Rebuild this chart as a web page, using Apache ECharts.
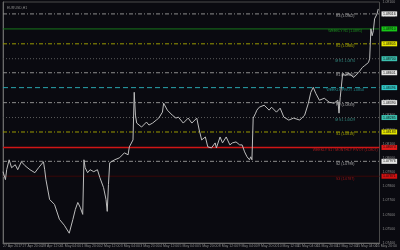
<!DOCTYPE html>
<html><head><meta charset="utf-8">
<script src="https://cdn.jsdelivr.net/npm/echarts@6/dist/echarts.min.js"></script>
<style>html,body{margin:0;padding:0;background:#0a0a10}#c{width:400px;height:250px}</style>
</head><body><div id="c"></div>
<script>
// Time labels (one every 16 H1 bars)
const TIME_LABELS = ['27 Apr 2017','27 Apr 20:00','28 Apr 12:00','1 May 04:00','1 May 20:00','2 May 12:00','3 May 04:00','3 May 20:00','4 May 12:00','5 May 04:00','5 May 20:00','8 May 12:00','9 May 04:00','9 May 20:00','10 May 12:00','11 May 04:00','11 May 20:00','12 May 12:00','15 May 04:00','15 May 20:00'];
const BARS_PER_LABEL = 16;
const BAR_COUNT = 307;
// Price line (bar index, close)
const BAR_IDX = [0,2,3,5,7,10,12,15,18,22,26,29,33,34,35,38,42,46,50,54,57,59,61,63,65,66,67,69,71,74,77,79,82,84,85,86,87,91,95,99,102,103,106,107,108,109,113,117,119,122,125,127,130,131,134,138,141,143,147,151,154,158,160,162,165,167,170,173,174,177,179,182,185,187,190,193,195,197,199,201,202,203,204,206,207,209,213,217,219,223,226,229,233,237,242,246,249,251,253,255,258,262,266,270,273,274,275,277,279,282,286,290,293,295,298,299,300,301,302,303,305,306];
const CLOSE = [1.07903,1.07847,1.07917,1.07987,1.07931,1.07952,1.07917,1.07973,1.07945,1.07917,1.07896,1.07931,1.07973,1.07917,1.07847,1.07707,1.07672,1.07567,1.07525,1.07469,1.07567,1.07637,1.07686,1.07651,1.07602,1.07987,1.07931,1.07896,1.07917,1.07903,1.07917,1.07861,1.07791,1.07707,1.07623,1.07812,1.07966,1.07987,1.08001,1.08036,1.08022,1.08078,1.08127,1.08463,1.08302,1.08246,1.08218,1.08253,1.08232,1.08246,1.08267,1.08281,1.08323,1.08386,1.08337,1.08302,1.08281,1.08288,1.08246,1.08281,1.08246,1.08281,1.08197,1.08127,1.08148,1.08078,1.08071,1.08106,1.08071,1.08148,1.08106,1.08148,1.08092,1.08106,1.08113,1.08092,1.08092,1.08043,1.08008,1.07987,1.08008,1.07987,1.08281,1.08316,1.08337,1.08358,1.08372,1.08337,1.08358,1.08323,1.08351,1.08288,1.08267,1.08281,1.08267,1.08302,1.08386,1.08463,1.08498,1.08456,1.08407,1.08421,1.08393,1.08386,1.08407,1.08316,1.08428,1.08596,1.08582,1.08596,1.08568,1.08603,1.08638,1.08652,1.08673,1.08701,1.08911,1.08862,1.08897,1.08981,1.09016,1.09051];
// Pivot levels
const LEVEL_VALUES = [1.09016,1.08910,1.08805,1.08700,1.08601,1.08496,1.08390,1.08285,1.08183,1.08074,1.07976,1.07871];
const LEVEL_NAMES = ['R3 (1.0902)','WEEKLY R1 (1.0891)','R2 (1.0880)','M R1 1.0870','R1 (1.0860)','WEEKLY PIVOT 1.0850','PP (1.0839)','M S1 1.0829','S1 (1.0818)','WEEKLY S1 / MONTHLY PIVOT (1.0807)','S2 (1.0798)','S3 (1.0787)'];
const LEVEL_KINDS = ['white','green','yellow','teal','white','cyan','white','teal','yellow','red','white','darkred'];
const Y_MIN = 1.0740, Y_MAX = 1.0910, Y_STEP = 0.0010;

const STYLE = {
  white:  {line:'#8c8c8c', type:[4,2,1,2], width:1, box:'#e4e4e4', text:'#d0d0d0'},
  green:  {line:'#17761a', type:'solid', width:1, box:'#18c818', text:'#22b022'},
  yellow: {line:'#9a9a00', type:[4,2,1,2], width:1, box:'#e6e600', text:'#c8c800'},
  teal:   {line:'#5c5c5c', type:[1,2], width:1, box:'#3cc0b0', text:'#3aa89a'},
  cyan:   {line:'#28a4ac', type:[5,3], width:1, box:'#30c8c8', text:'#2ab0b0'},
  red:    {line:'#d01515', type:'solid', width:1.5, box:'#e01a1a', text:'#d02020'},
  darkred:{line:'#3a0808', type:'solid', width:1, box:'#d01010', text:'#c01818'}
};
const FONT = 'Liberation Sans';
const LABEL_AT = 279;

const levelSeries = LEVEL_VALUES.map((v,i)=>{
  const s = STYLE[LEVEL_KINDS[i]];
  return {type:'line', name:'L'+i, data:[[0,v],[BAR_COUNT,v]], showSymbol:false, symbol:'none', silent:true, z:2,
    lineStyle:{color:s.line, type:s.type, width:s.width},
    endLabel:{show:true, distance:2, formatter:()=>v.toFixed(5), color:'#111', backgroundColor:s.box,
      fontSize:3.5, fontFamily:FONT, padding:[0.5,1.5,0.5,1.5]}};
});

const chart = echarts.init(document.getElementById('c'), null, {renderer:'canvas'});
chart.setOption({
  backgroundColor:'#0a0a10',
  animation:false,
  title:{text:'EURUSD,H1', left:2, top:1, textStyle:{color:'#8a8a8a', fontSize:3.5, fontFamily:FONT, fontWeight:'normal'}},
  grid:{left:1, right:15, top:1, bottom:7, show:true, borderColor:'#4a4a4a', borderWidth:1, backgroundColor:'transparent'},
  xAxis:{type:'value', min:0, max:BAR_COUNT, interval:BARS_PER_LABEL,
    axisLine:{show:true, lineStyle:{color:'#6a6a6a'}},
    axisTick:{show:true, length:1, lineStyle:{color:'#6a6a6a'}},
    splitLine:{show:false},
    axisLabel:{color:'#8a8a8a', fontSize:3.5, fontFamily:FONT, margin:1.5, align:'left', showMaxLabel:false,
      formatter:v=>{const i=v/BARS_PER_LABEL; return Number.isInteger(i)&&TIME_LABELS[i]?TIME_LABELS[i]:'';}}},
  yAxis:{type:'value', position:'right', min:Y_MIN, max:Y_MAX, interval:Y_STEP,
    axisLine:{show:true, lineStyle:{color:'#6a6a6a'}},
    axisTick:{show:true, length:1, lineStyle:{color:'#6a6a6a'}},
    splitLine:{show:false},
    axisLabel:{color:'#8a8a8a', fontSize:3.5, fontFamily:FONT, margin:3, formatter:v=>v.toFixed(5)}},
  series: levelSeries.concat([
    {type:'line', name:'close', data:BAR_IDX.map((x,i)=>[x,CLOSE[i]]), showSymbol:false, symbol:'none',
      lineStyle:{color:'#bdbdbd', width:1}, z:5},
    {type:'scatter', name:'names', symbolSize:0, silent:true, z:6,
      data:LEVEL_VALUES.map((v,i)=>({value:[LABEL_AT,v], label:{color:STYLE[LEVEL_KINDS[i]].text}})),
      label:{show:true, position:'bottom', distance:0.5, fontSize:3.5, fontFamily:FONT,
        formatter:p=>LEVEL_NAMES[p.dataIndex]}}
  ])
});
</script></body></html>
